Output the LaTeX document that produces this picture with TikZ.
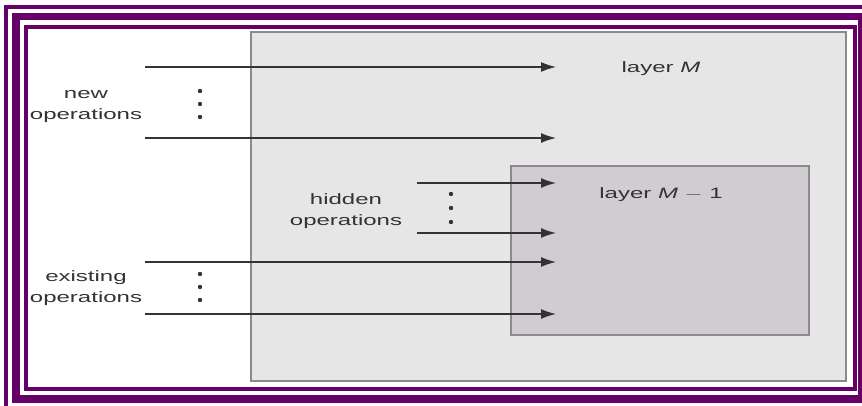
\documentclass[tikz,border=0pt]{standalone}
\usepackage{fontspec}
\setmainfont{Liberation Sans}
\usetikzlibrary{arrows.meta}
\definecolor{framec}{HTML}{660066}
\definecolor{boxa}{HTML}{E6E6E6}
\definecolor{boxb}{HTML}{D0CCD1}
\definecolor{edgec}{HTML}{8A8A8A}
\definecolor{ink}{HTML}{333333}
\newcommand\wide[1]{\scalebox{1.6}[1]{#1}}
\tikzset{
  lbl/.style={text=ink, align=center, font=\fontsize{15}{21}\selectfont, inner sep=0pt},
  oparrow/.style={draw=ink, line width=1.4pt, -{Latex[length=15pt,width=10pt]}},
  vdot/.style={fill=ink},
  layerbox/.style={draw=edgec, line width=1.8pt, anchor=north west, inner sep=0pt}
}
\begin{document}
\begin{tikzpicture}[x=1pt,y=-1pt]
\useasboundingbox (0,0) rectangle (862,406);
\clip (0,0) rectangle (862,406);
\fill[white] (0,0) rectangle (862,406);
% frame
\draw[framec, line width=4pt] (6,7) rectangle (900,450);
\draw[framec, line width=7.5pt] (16,16.5) rectangle (862,399);
\draw[framec, line width=4pt] (26,27) rectangle (854.5,389);
% layers
\node[layerbox, fill=boxa, minimum width=595pt, minimum height=349pt] (lm) at (250,31) {};
\node[layerbox, fill=boxb, minimum width=298pt, minimum height=169pt] (lm1) at (510,165) {};
% labels
\node[lbl] (tM) at (661,69) {\wide{layer \textit{M}}};
\node[lbl] (tM1) at (661,195) {\wide{layer \textit{M} $-$ 1}};
\node[lbl] (tnew) at (86,107) {\wide{new}\\\wide{operations}};
\node[lbl] (thid) at (346,211) {\wide{hidden}\\\wide{operations}};
\node[lbl] (tex) at (86,288) {\wide{existing}\\\wide{operations}};
% arrow coordinates
\coordinate (s1) at (145,67);  \coordinate (e1) at (556,67);
\coordinate (s2) at (145,138); \coordinate (e2) at (556,138);
\coordinate (s3) at (417,183); \coordinate (e3) at (556,183);
\coordinate (s4) at (417,233); \coordinate (e4) at (556,233);
\coordinate (s5) at (145,262); \coordinate (e5) at (556,262);
\coordinate (s6) at (145,314); \coordinate (e6) at (556,314);
\foreach \i in {1,...,6} { \draw[oparrow] (s\i) -- (e\i); }
% dots
\foreach \y in {91,104,117} { \fill[vdot] (200,\y) circle (2.2pt); }
\foreach \y in {194,208,222} { \fill[vdot] (451,\y) circle (2.2pt); }
\foreach \y in {274,287,300} { \fill[vdot] (200,\y) circle (2.2pt); }
\end{tikzpicture}
\end{document}
